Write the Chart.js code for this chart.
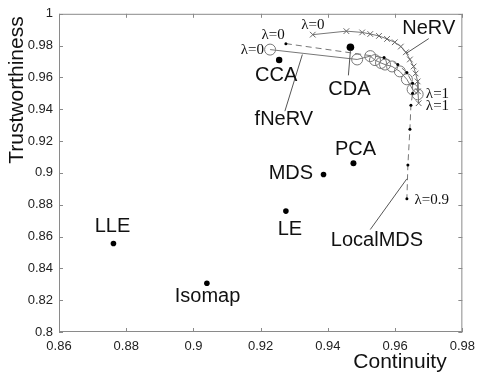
<!DOCTYPE html>
<html>
<head>
<meta charset="utf-8">
<script src="https://cdn.jsdelivr.net/npm/chart.js@4.4.1/dist/chart.umd.min.js"></script>
<style>
    body { margin: 0; background: #fff; }
    canvas { display: block; }
</style>
</head>
<body>
<canvas id="chart" width="482" height="372"></canvas>
<script>
// tick labels
const xTicks = [0.86, 0.88, 0.9, 0.92, 0.94, 0.96, 0.98]
const yTicks = [0.8, 0.82, 0.84, 0.86, 0.88, 0.9, 0.92, 0.94, 0.96, 0.98, 1]

// single methods
const methods = ['LLE', 'Isomap', 'LE', 'MDS', 'PCA', 'CCA', 'CDA']
const methodCont = [0.8762, 0.904, 0.9275, 0.9387, 0.9476, 0.9255, 0.9467]
const methodTrust = [0.8556, 0.8306, 0.876, 0.899, 0.906, 0.971, 0.979]

// NeRV, lambda 0 -> 1
const nervCont = [0.9355, 0.9455, 0.9502, 0.9526, 0.9552, 0.9576, 0.9599, 0.9617, 0.9632, 0.9644, 0.9655, 0.9661, 0.9667, 0.9668, 0.967]
const nervTrust = [0.9869, 0.9891, 0.9883, 0.9873, 0.9861, 0.9842, 0.9821, 0.9794, 0.9758, 0.9713, 0.9669, 0.9625, 0.9575, 0.9513, 0.9438]

// fNeRV, lambda 0 -> 1
const fnervCont = [0.9228, 0.9487, 0.9526, 0.954, 0.9558, 0.957, 0.9591, 0.9614, 0.9635, 0.9652, 0.9667]
const fnervTrust = [0.9775, 0.9713, 0.9734, 0.9709, 0.9691, 0.9681, 0.9669, 0.9638, 0.9588, 0.9525, 0.9494]

// LocalMDS, lambda 0 -> 0.9
const lmdsCont = [0.9275, 0.9567, 0.9608, 0.9635, 0.9652, 0.9652, 0.9647, 0.9644, 0.9638, 0.9635]
const lmdsTrust = [0.98125, 0.9725, 0.9681, 0.9631, 0.9563, 0.95, 0.9425, 0.9275, 0.905, 0.88375]

const toPoints = (xs, ys) => xs.map((x, i) => ({ x, y: ys[i] }))

// text labels (data coords) and leader lines
const sansLabels = [
    ['LLE', 0.8759, 0.8663], ['Isomap', 0.9042, 0.8225], ['LE', 0.9287, 0.8644],
    ['MDS', 0.929, 0.8994], ['PCA', 0.9482, 0.915], ['CCA', 0.9246, 0.9613],
    ['CDA', 0.9464, 0.9525], ['fNeRV', 0.9269, 0.9338], ['NeRV', 0.97, 0.9906],
    ['LocalMDS', 0.9546, 0.8575]
]
const lambdaLabels = [
    ['\u03bb=0', 0.9355, 0.9931], ['\u03bb=0', 0.9237, 0.9869], ['\u03bb=0', 0.9175, 0.9775],
    ['\u03bb=1', 0.9726, 0.9494], ['\u03bb=1', 0.9726, 0.9419], ['\u03bb=0.9', 0.9709, 0.8831]
]
const leaders = [
    [0.9632, 0.975, 0.97, 0.9844],
    [0.9467, 0.9769, 0.9461, 0.9613],
    [0.9324, 0.9744, 0.9272, 0.9388],
    [0.9635, 0.8963, 0.9526, 0.8644]
]

const fmt = v => String(+v.toFixed(2))
const frameColor = '#8a8a8a'

const annotate = {
    id: 'annotate',
    afterDraw(chart) {
        const { ctx, chartArea: a, scales: { x, y } } = chart
        ctx.save()

        // box + inward ticks
        ctx.strokeStyle = frameColor
        ctx.lineWidth = 1
        ctx.strokeRect(a.left + 0.5, a.top + 0.5, a.right - a.left - 1, a.bottom - a.top - 1)
        ctx.beginPath()
        xTicks.forEach(v => {
            const px = Math.round(x.getPixelForValue(v)) + 0.5
            ctx.moveTo(px, a.bottom); ctx.lineTo(px, a.bottom - 4)
            ctx.moveTo(px, a.top); ctx.lineTo(px, a.top + 4)
        })
        yTicks.forEach(v => {
            const py = Math.round(y.getPixelForValue(v)) + 0.5
            ctx.moveTo(a.left, py); ctx.lineTo(a.left + 4, py)
            ctx.moveTo(a.right, py); ctx.lineTo(a.right - 4, py)
        })
        ctx.stroke()

        // leader lines
        ctx.strokeStyle = '#555'
        ctx.beginPath()
        leaders.forEach(([x1, y1, x2, y2]) => {
            ctx.moveTo(x.getPixelForValue(x1), y.getPixelForValue(y1))
            ctx.lineTo(x.getPixelForValue(x2), y.getPixelForValue(y2))
        })
        ctx.stroke()

        ctx.fillStyle = '#111'
        ctx.textAlign = 'center'
        ctx.textBaseline = 'middle'
        ctx.font = '20px "Liberation Sans", Arial, sans-serif'
        sansLabels.forEach(([t, vx, vy]) => ctx.fillText(t, x.getPixelForValue(vx), y.getPixelForValue(vy)))
        ctx.font = '15px "Liberation Serif", "Times New Roman", serif'
        lambdaLabels.forEach(([t, vx, vy]) => ctx.fillText(t, x.getPixelForValue(vx), y.getPixelForValue(vy)))

        // axis titles
        ctx.font = '21px "Liberation Sans", Arial, sans-serif'
        ctx.fillText('Continuity', 400, 362)
        ctx.translate(17, 90)
        ctx.rotate(-Math.PI / 2)
        ctx.fillText('Trustworthiness', 0, 0)
        ctx.restore()
    }
}

new Chart(document.getElementById('chart'), {
    type: 'scatter',
    data: {
        datasets: [
            {
                label: 'LocalMDS',
                data: toPoints(lmdsCont, lmdsTrust),
                showLine: true,
                borderColor: '#777',
                borderWidth: 1,
                borderDash: [6, 4],
                pointRadius: 1.5,
                pointBackgroundColor: '#000',
                pointBorderColor: '#000',
                pointBorderWidth: 0
            },
            {
                label: 'NeRV',
                data: toPoints(nervCont, nervTrust),
                showLine: true,
                borderColor: '#777',
                borderWidth: 1,
                pointStyle: 'crossRot',
                pointRadius: 4,
                pointBorderColor: '#666',
                pointBorderWidth: 1
            },
            {
                label: 'fNeRV',
                data: toPoints(fnervCont, fnervTrust),
                showLine: true,
                borderColor: '#777',
                borderWidth: 1,
                pointStyle: 'circle',
                pointRadius: 5.5,
                pointBackgroundColor: 'rgba(0,0,0,0)',
                pointBorderColor: '#777',
                pointBorderWidth: 1
            },
            {
                label: 'methods',
                data: toPoints(methodCont, methodTrust),
                showLine: false,
                pointRadius: [2.8, 2.8, 2.8, 2.8, 3, 3.2, 3.8],
                pointBackgroundColor: '#000',
                pointBorderWidth: 0
            }
        ]
    },
    options: {
        responsive: false,
        animation: false,
        layout: { padding: { top: 12, right: 16, left: 0, bottom: 0 } },
        plugins: { legend: { display: false }, tooltip: { enabled: false } },
        scales: {
            x: {
                type: 'linear',
                min: 0.86,
                max: 0.98,
                afterBuildTicks: s => { s.ticks = xTicks.map(value => ({ value })) },
                afterFit: s => { s.height = 40 },
                grid: { display: false, drawTicks: false },
                border: { display: false },
                ticks: { padding: 7, color: '#222', font: { family: '"Liberation Sans", Arial', size: 13 }, callback: fmt, maxRotation: 0 }
            },
            y: {
                type: 'linear',
                min: 0.8,
                max: 1,
                afterBuildTicks: s => { s.ticks = yTicks.map(value => ({ value })) },
                afterFit: s => { s.width = 59 },
                grid: { display: false, drawTicks: false },
                border: { display: false },
                ticks: { padding: 6, color: '#222', font: { family: '"Liberation Sans", Arial', size: 13 }, callback: fmt }
            }
        }
    },
    plugins: [annotate]
})
</script>
</body>
</html>
